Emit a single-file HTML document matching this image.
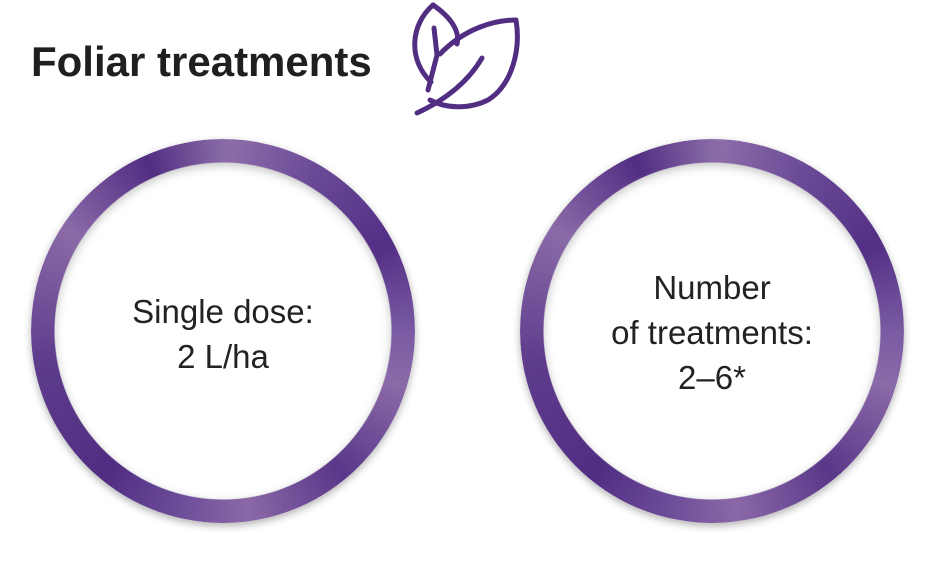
<!DOCTYPE html>
<html><head><style>
body{margin:0;width:942px;height:567px;background:#fff;position:relative;overflow:hidden;font-family:"Liberation Sans",sans-serif}
.title{position:absolute;left:31px;top:38px;font-size:42px;font-weight:bold;color:#1f1f1f;letter-spacing:0}
.ring{position:absolute;width:384px;height:384px;border-radius:50%;
background:conic-gradient(from 0deg,#886aa6 0deg,#8b6aa8 4deg,#6a4a96 30deg,#532f85 62deg,#7a5aa2 90deg,#8b6aa8 107deg,#5a3789 140deg,#8a68a7 172deg,#6b4b97 195deg,#512d82 219deg,#5e3c8c 260deg,#8b6aa8 303deg,#522e83 336deg,#886aa6 360deg);
-webkit-mask:radial-gradient(circle,transparent 168px,#000 169px);mask:radial-gradient(circle,transparent 168px,#000 169px);}
.sh{position:absolute;width:384px;height:384px;border-radius:50%;box-shadow:0 3px 8px rgba(0,0,0,.3),inset 0 0 0 23px #fff, inset 0 3px 10px 23px rgba(0,0,0,.25)}
.t{position:absolute;width:384px;text-align:center;font-size:33px;color:#222;line-height:45px}
</style></head><body>
<div class="title">Foliar treatments</div>
<svg style="position:absolute;left:0;top:0" width="942" height="140">
<g fill="none" stroke="#522e83" stroke-width="5" stroke-linecap="round" stroke-linejoin="round">
<path d="M433,5 C410,25 408,60 431,82"/>
<path d="M433,5 C452,18 460,32 457,44"/>
<path d="M434,28 L437,55 L428,90"/>
<path d="M440,54 C465,28 495,20 516,20 C521,50 512,85 488,100 C468,110 445,108 430,100"/>
<path d="M417,113 C445,100 468,82 482,58"/>
</g></svg>
<div class="sh" style="left:31px;top:139px"></div>
<div class="ring" style="left:31px;top:139px"></div>
<div class="sh" style="left:520px;top:139px"></div>
<div class="ring" style="left:520px;top:139px"></div>
<div class="t" style="left:31px;top:289px">Single dose:<br>2 L/ha</div>
<div class="t" style="left:520px;top:265px">Number<br>of treatments:<br>2–6*</div>
</body></html>
